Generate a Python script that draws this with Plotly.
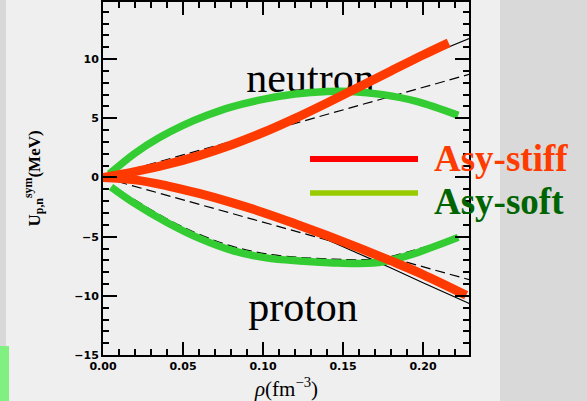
import plotly.graph_objects as go

# Symmetry potential of neutrons (upper) and protons (lower) vs density
rho_stiff_n = [0.000, 0.020, 0.040, 0.060, 0.080, 0.100, 0.120, 0.140, 0.160, 0.180, 0.200, 0.216]
u_stiff_n = [0.00, 0.50, 1.10, 1.85, 2.75, 3.80, 5.00, 6.30, 7.65, 9.00, 10.35, 11.38]

rho_stiff_p = [0.000, 0.020, 0.040, 0.060, 0.080, 0.100, 0.120, 0.140, 0.160, 0.180, 0.200, 0.227]
u_stiff_p = [0.00, -0.20, -0.70, -1.35, -2.10, -2.95, -3.90, -4.90, -5.95, -7.05, -8.20, -9.95]

rho_soft_n = [0.004, 0.020, 0.035, 0.050, 0.065, 0.080, 0.100, 0.120, 0.140, 0.155, 0.175, 0.196, 0.222]
u_soft_n = [0.30, 2.05, 3.35, 4.40, 5.25, 5.95, 6.60, 7.05, 7.27, 7.27, 7.00, 6.43, 5.25]

rho_soft_p = [0.005, 0.019, 0.040, 0.061, 0.081, 0.102, 0.123, 0.144, 0.160, 0.175, 0.194, 0.222]
u_soft_p = [-0.80, -2.12, -3.80, -5.19, -6.18, -6.79, -7.06, -7.22, -7.27, -7.12, -6.45, -5.06]

# thin reference curves
rho_ref = [0.000, 0.020, 0.040, 0.060, 0.080, 0.100, 0.120, 0.140, 0.160, 0.180, 0.200, 0.229]
u_ref_n = [0.00, 0.50, 1.08, 1.80, 2.70, 3.72, 4.90, 6.18, 7.50, 8.80, 10.10, 11.75]
u_ref_p = [0.00, -0.22, -0.78, -1.48, -2.30, -3.20, -4.20, -5.25, -6.45, -7.65, -8.90, -10.66]

rho_lin = [0.000, 0.229]
u_lin_n = [0.00, 8.72]
u_lin_p = [0.00, -8.64]

rho_soft_p_ref = [0.019, 0.040, 0.061, 0.081, 0.102, 0.123, 0.144, 0.160, 0.175, 0.194, 0.210]
u_soft_p_ref = [-1.82, -3.50, -4.85, -5.82, -6.45, -6.75, -6.90, -6.95, -6.82, -6.15, -5.55]

x_ticks = [0.00, 0.05, 0.10, 0.15, 0.20]
y_ticks = [-15, -10, -5, 0, 5, 10]

RED = "#ff3a00"
GREEN = "#33cc33"

fig = go.Figure()

# labels sit underneath the curves
fig.add_trace(go.Scatter(
    x=[0.1297, 0.125], y=[8.08, -11.24], mode="text",
    text=["neutron", "proton"], textposition="middle center",
    textfont=dict(family="Liberation Serif", size=42, color="black"),
    hoverinfo="skip", showlegend=False))

thin = dict(color="black", width=1.2)
dashed = dict(color="black", width=1.2, dash="10px,5px")
fig.add_trace(go.Scatter(x=rho_ref, y=u_ref_n, mode="lines", line=dict(**thin, shape="spline"), showlegend=False))
fig.add_trace(go.Scatter(x=rho_ref, y=u_ref_p, mode="lines", line=dict(**thin, shape="spline"), showlegend=False))
fig.add_trace(go.Scatter(x=rho_lin, y=u_lin_n, mode="lines", line=dashed, showlegend=False))
fig.add_trace(go.Scatter(x=rho_lin, y=u_lin_p, mode="lines", line=dashed, showlegend=False))
fig.add_trace(go.Scatter(x=rho_soft_p_ref, y=u_soft_p_ref, mode="lines",
                         line=dict(**dashed, shape="spline"), showlegend=False))

fig.add_trace(go.Scatter(x=rho_soft_n, y=u_soft_n, mode="lines",
                         line=dict(color=GREEN, width=7.5, shape="spline"), showlegend=False))
fig.add_trace(go.Scatter(x=rho_soft_p, y=u_soft_p, mode="lines",
                         line=dict(color=GREEN, width=7.5, shape="spline"), showlegend=False))
fig.add_trace(go.Scatter(x=rho_stiff_n, y=u_stiff_n, mode="lines",
                         line=dict(color=RED, width=9, shape="spline"), showlegend=False))
fig.add_trace(go.Scatter(x=rho_stiff_p, y=u_stiff_p, mode="lines",
                         line=dict(color=RED, width=9, shape="spline"), showlegend=False))

tickfont = dict(family="DejaVu Sans", size=11, color="black", weight="bold")
axis_common = dict(
    showline=True, linewidth=2, linecolor="black", mirror="ticks",
    ticks="inside", tickwidth=1.5, tickcolor="black",
    showgrid=False, zeroline=False, tickfont=tickfont,
)
fig.update_xaxes(range=[0, 0.22875], tickvals=x_ticks, tickformat=".2f", ticklen=13,
                 minor=dict(ticks="inside", ticklen=6, dtick=0.01, tick0=0,
                            tickwidth=1.5, tickcolor="black", showgrid=False),
                 **axis_common)
fig.update_yaxes(range=[-15, 14.83], tickvals=y_ticks, ticklen=14,
                 minor=dict(ticks="inside", ticklen=6, dtick=1, tick0=0,
                            tickwidth=1.5, tickcolor="black", showgrid=False),
                 **axis_common)

shapes = [
    # side panels of the slide background
    dict(type="rect", xref="paper", yref="paper", x0=1.0847, x1=1.6, y0=-0.5, y1=1.5,
         fillcolor="#d9d9d9", line=dict(width=0), layer="below"),
    dict(type="rect", xref="paper", yref="paper", x0=-0.3, x1=-0.265, y0=-0.5, y1=1.5,
         fillcolor="#d8d8d8", line=dict(width=0), layer="below"),
    dict(type="rect", xref="paper", yref="paper", x0=-0.3, x1=-0.2568, y0=-0.5, y1=0.0254,
         fillcolor="#80f080", line=dict(width=0), layer="below"),
    # legend samples
    dict(type="line", xref="paper", yref="paper", x0=0.5656, x1=0.8607, y0=0.5549, y1=0.5549,
         line=dict(color="#ff0000", width=6)),
    dict(type="line", xref="paper", yref="paper", x0=0.5656, x1=0.8607, y0=0.4592, y1=0.4592,
         line=dict(color="#99cc00", width=5.5)),
]

annotations = [
    dict(text="<b>Asy-stiff</b>", xref="paper", yref="paper", x=0.8989, y=0.5569,
         xanchor="left", yanchor="middle", showarrow=False,
         font=dict(family="Liberation Serif", size=37, color="#ff3c00")),
    dict(text="<b>Asy-soft</b>", xref="paper", yref="paper", x=0.8989, y=0.4358,
         xanchor="left", yanchor="middle", showarrow=False,
         font=dict(family="Liberation Serif", size=37, color="#006400")),
    dict(text="<b>U<sub>p,n</sub><sup>sym</sup>(MeV)</b>", xref="paper", yref="paper",
         x=-0.1885, y=0.5, xanchor="center", yanchor="middle", textangle=-90,
         showarrow=False, font=dict(family="Liberation Serif", size=17, color="black")),
    dict(text="<i>ρ</i>(fm<sup>−3</sup>)", xref="paper", yref="paper",
         x=0.5, y=-0.093, xanchor="center", yanchor="middle", showarrow=False,
         font=dict(family="Liberation Serif", size=21, color="black")),
]

fig.update_layout(
    width=587, height=401,
    margin=dict(l=103, r=118, t=0, b=46, pad=0),
    paper_bgcolor="#efefef", plot_bgcolor="#efefef",
    shapes=shapes, annotations=annotations, showlegend=False,
)

fig.write_html("out.html")
